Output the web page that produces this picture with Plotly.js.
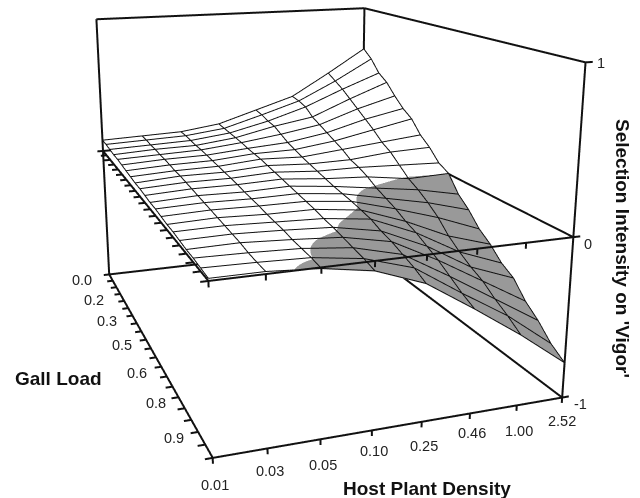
<!DOCTYPE html><html><head><script src="https://cdn.plot.ly/plotly-3.0.1.min.js"></script></head>
<body style="margin:0;overflow:hidden;background:#fff">
<div id="g" style="position:absolute;left:-168px;top:-258px;width:904px;height:904px"></div>
<script>
const densityLabels=['0.01','0.03','0.05','0.10','0.25','0.46','1.00','2.52'];
const gallLabels=['0.0','0.2','0.3','0.5','0.6','0.8','0.9'];
const zLabels=['-1','0','1'];
const c0=[.08,.08,.075,.07,.07,.065,.06,.055,.05,.05,.045,.04,.04,.035,.03,.03,.025,.02,.02,.015,.01];
const c1=[.09,.09,.085,.085,.08,.08,.075,.07,.07,.065,.06,.055,.05,.045,.04,.035,.03,.025,.015,.01,.01];
const c2=[.10,.10,.095,.09,.09,.085,.08,.075,.07,.065,.06,.05,.045,.04,.03,.025,.02,.01,.005,.001,-.01];
const c3=[.14,.135,.13,.125,.12,.11,.105,.10,.09,.08,.07,.06,.05,.04,.03,.015,.005,-.01,-.025,-.04,-.06];
const c4=[.23,.22,.2,.19,.16,.13,.11,.09,.075,.06,.045,.03,.02,.01,-.005,-.02,-.05,-.07,-.10,-.13,-.17];
const c5=[.32,.31,.29,.24,.21,.18,.15,.12,.08,.06,.03,-.01,-.04,-.07,-.11,-.14,-.18,-.22,-.27,-.32,-.36];
const c6=[.49,.45,.41,.36,.31,.26,.21,.15,.11,.05,-.01,-.05,-.1,-.16,-.24,-.3,-.35,-.39,-.45,-.5,-.56];
const c7=[.67,.61,.52,.47,.39,.32,.27,.18,.12,.04,0,-.11,-.18,-.27,-.33,-.41,-.46,-.56,-.63,-.72,-.78];
const cols=[c0,c1,c2,c3,c4,c5,c6,c7];
const xi=c0.map((_,i)=>i),yi=cols.map((_,i)=>i);
const gx=[],gy=[],gz=[];const L=.004;
xi.forEach(r=>{yi.forEach(c=>{gx.push(r);gy.push(c);gz.push(cols[c][r]+L)});gx.push(NaN);gy.push(NaN);gz.push(NaN)});
yi.forEach(c=>{xi.forEach(r=>{gx.push(r);gy.push(c);gz.push(cols[c][r]+L)});gx.push(NaN);gy.push(NaN);gz.push(NaN)});
const fx=[],fy=[],fz=[];const seg=(a,b)=>{fx.push(a[0],b[0],NaN);fy.push(a[1],b[1],NaN);fz.push(a[2],b[2],NaN)};
[[0,0],[0,7],[20,7]].forEach(q=>seg([q[0],q[1],-1],[q[0],q[1],1]));
seg([0,0,1],[0,7,1]);seg([0,7,1],[20,7,1]);
[-1,0].forEach(z=>{seg([0,0,z],[20,0,z]);seg([20,0,z],[20,7,z]);seg([20,7,z],[0,7,z]);seg([0,7,z],[0,0,z]);
 xi.forEach(r=>seg([r,0,z],[r,-.14,z]));yi.forEach(c=>seg([20,c,z],[20,c,z-.035]));});
[-1,0,1].forEach(z=>seg([20,7,z],[20,7.15,z]));
const traces=[{type:'surface',x:xi,y:yi,z:cols,surfacecolor:cols,
 cmin:-.004,cmax:.004,showscale:false,colorscale:[[0,'#999'],[.4999,'#999'],[.5001,'#fff'],[1,'#fff']],
 lighting:{ambient:1,diffuse:0,specular:0,fresnel:0,roughness:1},hoverinfo:'skip'},
 {type:'scatter3d',mode:'lines',x:gx,y:gy,z:gz,line:{color:'#111',width:2},hoverinfo:'skip',connectgaps:false},
 {type:'scatter3d',mode:'lines',x:fx,y:fy,z:fz,line:{color:'#111',width:4},hoverinfo:'skip',connectgaps:false}];
const tf={family:'Liberation Sans, Arial, sans-serif',size:14.5,color:'#222'};
const sa=[];
const gs=[[-27,-6],[-26,-6],[-25,-5],[-24,-5],[-24,-6],[-23,-6],[-24,-6]];
gallLabels.forEach((t,i)=>sa.push({x:i*3,y:0,z:-1,text:t,showarrow:false,font:tf,xshift:gs[i][0],yshift:gs[i][1]}));
const ds=[-27,-23,-26,-21,-24,-20,-26,-23];
densityLabels.forEach((t,i)=>sa.push({x:20,y:i,z:-1,text:t,showarrow:false,font:tf,xshift:i==7?0:2,yshift:ds[i]}));
const zs=[[18,-6],[15,-7],[15,-1]];
zLabels.forEach((t,i)=>sa.push({x:20,y:7,z:i-1,text:t,showarrow:false,font:tf,xshift:zs[i][0],yshift:zs[i][1]}));
const px=x=>(x+168)/904,py=y=>1-(y+258)/904;
const bf={family:'Liberation Sans, Arial, sans-serif',size:19,color:'#111'};
const ann=[{x:px(59),y:py(378),xref:'paper',yref:'paper',xanchor:'center',yanchor:'middle',text:'<b>Gall Load</b>',showarrow:false,font:bf},
{x:px(427),y:py(488),xref:'paper',yref:'paper',xanchor:'center',yanchor:'middle',text:'<b>Host Plant Density</b>',showarrow:false,font:bf},
{x:px(623),y:py(248),xref:'paper',yref:'paper',xanchor:'center',yanchor:'middle',text:"<b>Selection Intensity on 'Vigor'</b>",showarrow:false,font:bf,textangle:90}];
const hid=(r)=>({visible:false,range:r,autorange:false,showspikes:false});
Plotly.newPlot('g',traces,{width:904,height:904,autosize:false,margin:{l:0,r:0,t:0,b:0},showlegend:false,paper_bgcolor:'#fff',annotations:ann,
 scene:{domain:{x:[0,1],y:[0,1]},dragmode:'orbit',aspectmode:'manual',aspectratio:{x:.8714*21/20,y:.6107*8/7,z:.5682*2.2/2},
 xaxis:hid([-.5,20.5]),yaxis:hid([-.5,7.5]),zaxis:hid([-1.1,1.1]),annotations:sa,
 camera:{eye:{x:1.8753,y:-.6835,z:.5416},center:{x:-.2103,y:.0323,z:-.0702},up:{x:-1.2847,y:.4474,z:1},projection:{type:'perspective'}}}},{displayModeBar:false});
</script></body></html>
